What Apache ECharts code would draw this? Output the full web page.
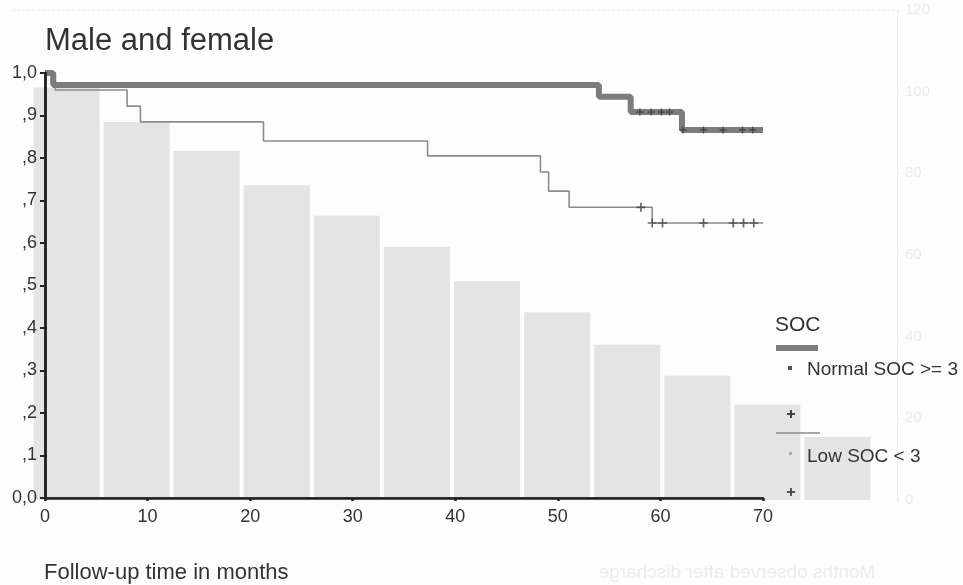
<!DOCTYPE html>
<html>
<head>
<meta charset="utf-8">
<script src="https://cdn.jsdelivr.net/npm/echarts@6/dist/echarts.min.js"></script>
<style>
html,body{margin:0;padding:0;background:#fdfdfd;}
#chart{width:963px;height:585px;}
</style>
</head>
<body>
<div id="chart"></div>
<script>
// Kaplan-Meier step points [months, cumulative survival]
const normalSteps = [[0,1],[0.8,0.972],[54,0.944],[57.1,0.908],[62.1,0.866],[70,0.866]];
const normalCensored = [[58.0,0.908],[59.1,0.908],[60.1,0.908],[60.9,0.908],
                        [62.2,0.866],[64.2,0.866],[66.1,0.866],[68.0,0.866],[69.0,0.866]];
const lowSteps = [[0,1],[1,0.96],[8,0.922],[9.3,0.885],[21.3,0.84],[37.3,0.805],
                  [48.3,0.767],[49.1,0.722],[51.1,0.684],[59.2,0.647],[70,0.647]];
const lowCensored = [[58.1,0.684],[59.2,0.647],[60.2,0.647],[64.2,0.647],
                     [67.1,0.647],[68.1,0.647],[69.1,0.647]];
// faint background bars (show-through from the reverse page)
const barCats = ['1','2','3','4','5','6','7','8','9','10','11','12'];
const barValues = [101,92.6,85.5,77.1,69.6,62,53.6,46,38,30.4,23.3,15.4];
// tick labels
const yTickLabels = ['0,0',',1',',2',',3',',4',',5',',6',',7',',8',',9','1,0'];
const titleText = 'Male and female';
const xAxisName = 'Follow-up time in months';
const legendTitle = 'SOC';
const legendNames = ['Normal SOC >= 3','Low SOC < 3'];
const ghostText = 'Months observed after discharge';

const FONT = '"Liberation Sans", Arial, sans-serif';
const plus = 'path://M-0.75,-4H0.75V-0.75H4V0.75H0.75V4H-0.75V0.75H-4V-0.75H-0.75Z';

function plusMark(cx, cy, color) {
  return {type: 'group', z: 20, children: [
    {type: 'rect', z: 20, shape: {x: cx - 0.9, y: cy - 4, width: 1.8, height: 8}, style: {fill: color}},
    {type: 'rect', z: 20, shape: {x: cx - 4, y: cy - 0.9, width: 8, height: 1.8}, style: {fill: color}}
  ]};
}

const chart = echarts.init(document.getElementById('chart'));
chart.setOption({
  backgroundColor: '#fdfdfd',
  animation: false,
  textStyle: {fontFamily: FONT},
  grid: [
    {left: 45, top: 73, width: 718, height: 425},
    {left: 31.5, top: 10, width: 841, height: 490}
  ],
  xAxis: [
    {gridIndex: 0, type: 'value', min: 0, max: 70, interval: 10, z: 10,
     axisLine: {show: true, lineStyle: {color: '#333', width: 1.5}},
     axisTick: {show: true, length: 3, lineStyle: {color: '#222', width: 2.5}},
     splitLine: {show: false},
     axisLabel: {color: '#333', fontSize: 18, margin: 10, fontFamily: FONT}},
    {gridIndex: 0, type: 'value', min: 0, max: 70, position: 'top', z: 10,
     axisLine: {show: true, lineStyle: {color: '#222', width: 2.5}},
     axisTick: {show: false}, axisLabel: {show: false}, splitLine: {show: false}},
    {gridIndex: 1, type: 'category', data: barCats, show: false}
  ],
  yAxis: [
    {gridIndex: 0, type: 'value', min: 0, max: 1, interval: 0.1, z: 10,
     axisLine: {show: true, lineStyle: {color: '#222', width: 2.5}},
     axisTick: {show: true, length: 5, lineStyle: {color: '#222', width: 2}},
     splitLine: {show: false},
     axisLabel: {color: '#333', fontSize: 18, margin: 8, fontFamily: FONT,
                 formatter: v => yTickLabels[Math.round(v * 10)]}},
    {gridIndex: 0, type: 'value', min: 0, max: 1, position: 'right', z: 10,
     axisLine: {show: true, lineStyle: {color: '#222', width: 2.5}},
     axisTick: {show: false}, axisLabel: {show: false}, splitLine: {show: false}},
    {gridIndex: 1, type: 'value', min: 0, max: 120, interval: 20, position: 'right', offset: 24.5, z: 0,
     axisLine: {show: true, lineStyle: {color: '#ededed', width: 1}},
     axisTick: {show: true, length: 3, lineStyle: {color: '#ededed'}},
     splitLine: {show: false},
     axisLabel: {color: '#ebebeb', fontSize: 15, margin: 8}}
  ],
  series: [
    {type: 'bar', xAxisIndex: 2, yAxisIndex: 2, data: barValues, barWidth: 66, z: 1,
     itemStyle: {color: '#e4e4e4'}, silent: true},
    {type: 'line', name: legendNames[1], xAxisIndex: 0, yAxisIndex: 0, data: lowSteps, step: 'end',
     showSymbol: false, z: 5, lineStyle: {color: '#8c8c8c', width: 1.6}},
    {type: 'line', name: legendNames[0], xAxisIndex: 0, yAxisIndex: 0, data: normalSteps, step: 'end',
     showSymbol: false, z: 6, lineStyle: {color: '#7c7c7c', width: 6}},
    {type: 'scatter', xAxisIndex: 0, yAxisIndex: 0, data: normalCensored, symbol: plus, symbolSize: 7, z: 8,
     itemStyle: {color: '#333'}},
    {type: 'scatter', xAxisIndex: 0, yAxisIndex: 0, data: lowCensored, symbol: plus, symbolSize: 9, z: 8,
     itemStyle: {color: '#444'}}
  ],
  graphic: [
    {type: 'line', z: 0, shape: {x1: 12, y1: 10, x2: 897, y2: 10},
     style: {stroke: '#ebebeb', lineWidth: 1, lineDash: [3, 2]}},
    {type: 'group', x: 737, y: 573, scaleX: -1, z: 0, children: [
      {type: 'text', style: {text: ghostText, x: 0, y: 0, textAlign: 'center', textVerticalAlign: 'middle',
        fill: '#ececec', font: '19px ' + FONT}}]},
    {type: 'text', z: 20, style: {text: titleText, x: 45, y: 41, textVerticalAlign: 'middle',
      fill: '#333', font: '31px ' + FONT}},
    {type: 'text', z: 20, style: {text: xAxisName, x: 44, y: 573, textVerticalAlign: 'middle',
      fill: '#333', font: '22px ' + FONT}},
    {type: 'text', z: 20, style: {text: legendTitle, x: 775, y: 325, textVerticalAlign: 'middle',
      fill: '#333', font: '21px ' + FONT}},
    {type: 'rect', z: 20, shape: {x: 776, y: 345, width: 42, height: 6}, style: {fill: '#7c7c7c'}},
    {type: 'rect', z: 20, shape: {x: 788, y: 366, width: 4, height: 4}, style: {fill: '#555'}},
    {type: 'text', z: 20, style: {text: legendNames[0], x: 807, y: 370, textVerticalAlign: 'middle',
      fill: '#333', font: '19px ' + FONT}},
    plusMark(791, 414, '#333'),
    {type: 'line', z: 20, shape: {x1: 776, y1: 433, x2: 820, y2: 433}, style: {stroke: '#8c8c8c', lineWidth: 1.6}},
    {type: 'rect', z: 20, shape: {x: 789, y: 452, width: 3, height: 3}, style: {fill: '#aaa'}},
    {type: 'text', z: 20, style: {text: legendNames[1], x: 807, y: 457, textVerticalAlign: 'middle',
      fill: '#333', font: '19px ' + FONT}},
    plusMark(791, 492, '#444')
  ]
});
</script>
</body>
</html>
